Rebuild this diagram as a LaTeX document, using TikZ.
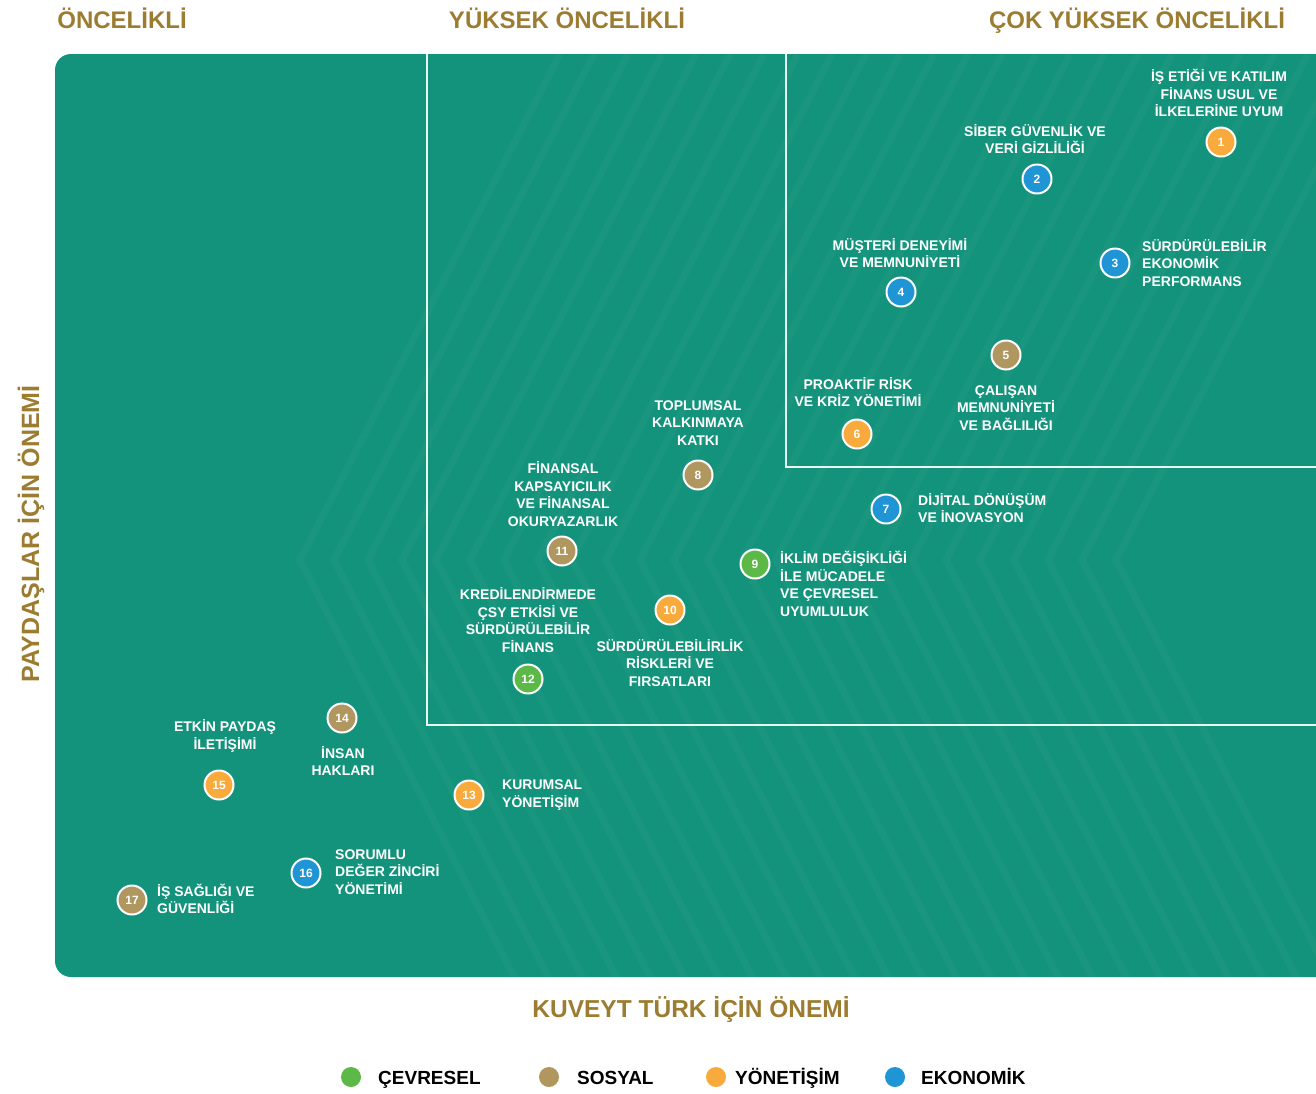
\documentclass[tikz,border=0pt]{standalone}
\usepackage{fontspec}
\setmainfont{Liberation Sans}
\definecolor{panel}{HTML}{13937B}
\definecolor{gold}{HTML}{9C7C30}
\definecolor{corange}{HTML}{F8AA3C}
\definecolor{cblue}{HTML}{1F95D5}
\definecolor{ctan}{HTML}{B09760}
\definecolor{cgreen}{HTML}{5CB947}
\tikzset{
  hdr/.style={text=gold, font=\bfseries\fontsize{24}{28}\selectfont, inner sep=0pt, anchor=base},
  lbl/.style={text=white, font=\bfseries\fontsize{14}{17.6}\selectfont, inner sep=0pt, align=center},
  lbll/.style={lbl, align=left, anchor=west},
  dot/.style={circle, draw=white, line width=2pt, minimum size=29pt, inner sep=0pt, text=white, font=\bfseries\fontsize{12}{12}\selectfont},
  divider/.style={draw=white, line width=1.3pt, opacity=0.9},
  legdot/.style={circle, minimum size=20pt, inner sep=0pt},
  legtxt/.style={text=black, font=\bfseries\fontsize{19}{22}\selectfont, inner sep=0pt, anchor=base west},
  stripe/.style={draw=white, line width=7pt}
}
\begin{document}
\begin{tikzpicture}[x=1pt, y=-1pt]
\useasboundingbox (0,0) rectangle (1316,1093);
% panel
\fill[panel, rounded corners=16pt] (55,54) rectangle (1360,977);
% subtle texture
\begin{scope}[transparency group, opacity=0.03]
\clip[rounded corners=16pt] (55,54) rectangle (1360,977);
\foreach \k in {0,...,24} {
  \draw[stripe] ({560+\k*34},54) -- ({300+\k*34},560) -- ({560+\k*34},1066);
}
\end{scope}
% dividers
\draw[divider] (427,54) -- (427,725) -- (1320,725);
\draw[divider] (786,54) -- (786,467) -- (1320,467);
% headers
\node[hdr] (h1) at (122,28) {ÖNCELİKLİ};
\node[hdr] (h2) at (567,28) {YÜKSEK ÖNCELİKLİ};
\node[hdr] (h3) at (1137,28) {ÇOK YÜKSEK ÖNCELİKLİ};
% axes
\node[hdr, font=\bfseries\fontsize{24.5}{28}\selectfont] (ax) at (691,1017) {KUVEYT TÜRK İÇİN ÖNEMİ};
\node[hdr, font=\bfseries\fontsize{25}{28}\selectfont, rotate=90] (ay) at (39,534) {PAYDAŞLAR İÇİN ÖNEMİ};
% circles
\node[dot, fill=corange] (c1) at (1221,142) {1};
\node[dot, fill=cblue] (c2) at (1037,179) {2};
\node[dot, fill=cblue] (c3) at (1115,263) {3};
\node[dot, fill=cblue] (c4) at (901,292) {4};
\node[dot, fill=ctan] (c5) at (1006,355) {5};
\node[dot, fill=corange] (c6) at (857,434) {6};
\node[dot, fill=cblue] (c7) at (886,509) {7};
\node[dot, fill=ctan] (c8) at (698,475) {8};
\node[dot, fill=cgreen] (c9) at (755,564) {9};
\node[dot, fill=corange] (c10) at (670,610) {10};
\node[dot, fill=ctan] (c11) at (562,551) {11};
\node[dot, fill=cgreen] (c12) at (528,679) {12};
\node[dot, fill=corange] (c13) at (469,795) {13};
\node[dot, fill=ctan] (c14) at (342,718) {14};
\node[dot, fill=corange] (c15) at (219,785) {15};
\node[dot, fill=cblue] (c16) at (306,873) {16};
\node[dot, fill=ctan] (c17) at (132,900) {17};
% labels
\node[lbl] (l1) at (1219,93) {İŞ ETİĞİ VE KATILIM\\FİNANS USUL VE\\İLKELERİNE UYUM};
\node[lbl] (l2) at (1035,139) {SİBER GÜVENLİK VE\\VERİ GİZLİLİĞİ};
\node[lbll] (l3) at (1142,263) {SÜRDÜRÜLEBİLİR\\EKONOMİK\\PERFORMANS};
\node[lbl] (l4) at (900,253) {MÜŞTERİ DENEYİMİ\\VE MEMNUNİYETİ};
\node[lbl] (l5) at (1006,408) {ÇALIŞAN\\MEMNUNİYETİ\\VE BAĞLILIĞI};
\node[lbl] (l6) at (858,392) {PROAKTİF RİSK\\VE KRİZ YÖNETİMİ};
\node[lbll] (l7) at (918,508) {DİJİTAL DÖNÜŞÜM\\VE İNOVASYON};
\node[lbl] (l8) at (698,423) {TOPLUMSAL\\KALKINMAYA\\KATKI};
\node[lbll] (l9) at (780,584) {İKLİM DEĞİŞİKLİĞİ\\İLE MÜCADELE\\VE ÇEVRESEL\\UYUMLULUK};
\node[lbl] (l10) at (670,663) {SÜRDÜRÜLEBİLİRLİK\\RİSKLERİ VE\\FIRSATLARI};
\node[lbl] (l11) at (563,494) {FİNANSAL\\KAPSAYICILIK\\VE FİNANSAL\\OKURYAZARLIK};
\node[lbl] (l12) at (528,620) {KREDİLENDİRMEDE\\ÇSY ETKİSİ VE\\SÜRDÜRÜLEBİLİR\\FİNANS};
\node[lbll] (l13) at (502,795) {KURUMSAL\\YÖNETİŞİM};
\node[lbl] (l14) at (343,761) {İNSAN\\HAKLARI};
\node[lbl] (l15) at (225,736) {ETKİN PAYDAŞ\\İLETİŞİMİ};
\node[lbll] (l16) at (335,872) {SORUMLU\\DEĞER ZİNCİRİ\\YÖNETİMİ};
\node[lbll] (l17) at (157,899) {İŞ SAĞLIĞI VE\\GÜVENLİĞİ};
% legend
\node[legdot, fill=cgreen] (g1) at (351,1077) {};
\node[legtxt] (t1) at (378,1084) {ÇEVRESEL};
\node[legdot, fill=ctan] (g2) at (549,1077) {};
\node[legtxt] (t2) at (577,1084) {SOSYAL};
\node[legdot, fill=corange] (g3) at (716,1077) {};
\node[legtxt] (t3) at (735,1084) {YÖNETİŞİM};
\node[legdot, fill=cblue] (g4) at (895,1077) {};
\node[legtxt] (t4) at (921,1084) {EKONOMİK};
\end{tikzpicture}
\end{document}
